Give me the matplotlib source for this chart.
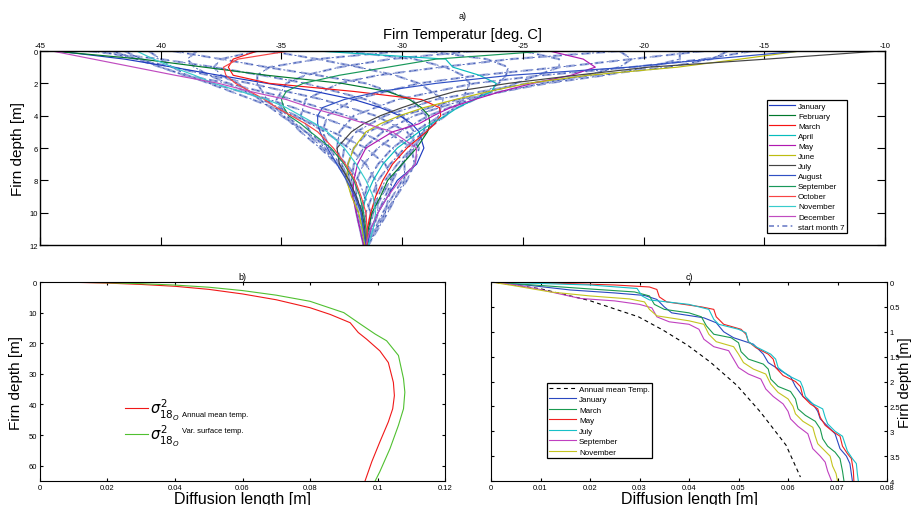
import matplotlib
matplotlib.use('Agg')
import matplotlib.pyplot as plt

plt.rcParams['font.family'] = ['Liberation Sans', 'DejaVu Sans']
plt.rcParams['axes.unicode_minus'] = False

# ---------------- panel a: firn temperature profiles ----------------
depth_a = [0, 0.5, 1, 1.5, 2, 2.5, 3, 3.5, 4, 4.5, 5, 6, 7, 8, 9, 10, 11, 12]
months = ['January', 'February', 'March', 'April', 'May', 'June', 'July',
          'August', 'September', 'October', 'November', 'December']
t_jan = [-44.3, -41.5, -39.5, -37.6, -35.6, -33.6, -32.0, -30.9, -30.1, -29.6, -29.3, -29.1, -29.4, -30.2, -30.6, -31.0, -31.3, -31.45]
t_feb = [-44.5, -40.8, -38.2, -35.6, -32.5, -30.6, -29.7, -29.2, -28.9, -28.85, -28.95, -29.4, -30.0, -30.6, -30.9, -31.25, -31.4, -31.5]
t_mar = [-36.0, -37.0, -37.2, -37.0, -35.5, -32.0, -29.2, -28.45, -28.4, -28.65, -29.0, -29.8, -30.4, -30.8, -31.1, -31.3, -31.45, -31.5]
t_apr = [-33.5, -28.2, -27.9, -26.8, -26.1, -26.3, -27.0, -27.7, -28.2, -28.8, -29.3, -30.2, -30.8, -31.2, -31.5, -31.65, -31.65, -31.55]
t_may = [-23.9, -22.5, -22.0, -23.0, -24.6, -25.9, -27.0, -28.0, -28.7, -29.3, -30.4, -31.5, -31.85, -32.0, -32.05, -31.9, -31.75, -31.6]
t_jun = [-13.5, -16.0, -18.6, -22.3, -24.8, -26.4, -27.8, -29.1, -30.1, -30.9, -31.5, -32.0, -32.25, -32.3, -32.1, -31.8, -31.65, -31.55]
t_jul = [-10.2, -14.9, -19.8, -22.8, -25.6, -27.8, -29.0, -30.0, -30.9, -31.6, -32.1, -32.7, -32.6, -32.2, -31.9, -31.65, -31.55, -31.5]
t_aug = [-13.5, -17.2, -20.6, -25.5, -28.6, -30.9, -32.4, -33.3, -33.5, -33.5, -33.4, -33.1, -32.7, -32.3, -31.95, -31.7, -31.6, -31.5]
t_sep = [-24.0, -28.6, -30.6, -32.6, -34.1, -34.8, -35.0, -34.9, -34.7, -34.2, -33.8, -32.95, -32.4, -32.0, -31.75, -31.6, -31.5, -31.45]
t_oct = [-34.7, -36.8, -37.4, -37.3, -36.9, -36.3, -35.7, -35.2, -34.6, -34.0, -33.5, -32.85, -32.35, -31.95, -31.7, -31.5, -31.45, -31.45]
t_nov = [-41.0, -40.3, -39.5, -38.6, -37.8, -36.7, -35.6, -34.8, -34.2, -33.6, -33.1, -32.4, -31.9, -31.5, -31.2, -31.1, -31.2, -31.4]
t_dec = [-44.5, -42.8, -41.1, -39.4, -37.6, -36.3, -34.8, -33.8, -32.6, -31.5, -30.4, -29.4, -29.45, -30.1, -30.6, -31.0, -31.3, -31.5]
temps_a = [t_jan, t_feb, t_mar, t_apr, t_may, t_jun, t_jul,
           t_aug, t_sep, t_oct, t_nov, t_dec]
colors_a = ['#1f3cc0', '#00782c', '#f41414', '#08bcbc', '#b018b0', '#bcbc10',
            '#444444', '#3050c4', '#18985a', '#f84444', '#38cccc', '#c04cc0']

# dashed profiles ("start month 7")
depth_dash = [0, 0.5, 1, 1.5, 2, 3, 4, 5, 6, 7, 8, 10, 12]
dashed_profiles = [
    [-43.0, -40.0, -37.8, -35.8, -34.0, -31.5, -30.0, -29.5, -29.6, -30.0, -30.4, -31.0, -31.45],
    [-42.5, -41.0, -39.5, -38.0, -36.3, -33.3, -31.1, -29.8, -29.3, -29.5, -30.0, -30.8, -31.45],
    [-42.0, -41.0, -40.0, -39.0, -37.2, -34.5, -32.3, -30.6, -29.6, -29.5, -29.8, -30.7, -31.45],
    [-41.5, -40.8, -40.0, -39.0, -37.9, -35.5, -33.5, -31.7, -30.4, -29.9, -29.9, -30.6, -31.4],
    [-40.5, -40.0, -39.5, -38.9, -38.0, -36.2, -34.5, -32.9, -31.5, -30.7, -30.4, -30.7, -31.4],
    [-38.5, -38.9, -38.6, -38.0, -37.2, -35.8, -34.4, -33.2, -32.2, -31.5, -31.1, -31.0, -31.4],
    [-36.0, -37.5, -37.8, -37.5, -36.8, -35.9, -35.0, -34.0, -33.0, -32.3, -31.8, -31.3, -31.4],
    [-30.0, -33.5, -35.5, -36.0, -36.0, -35.6, -34.9, -34.2, -33.4, -32.7, -32.2, -31.6, -31.5],
    [-27.0, -30.5, -32.6, -34.0, -34.8, -35.2, -34.8, -34.0, -33.3, -32.7, -32.2, -31.7, -31.5],
    [-21.0, -25.5, -28.4, -31.0, -32.6, -34.0, -34.2, -33.8, -33.2, -32.7, -32.2, -31.7, -31.5],
    [-17.5, -20.5, -23.5, -26.8, -29.3, -32.0, -33.1, -33.3, -33.0, -32.6, -32.2, -31.7, -31.5],
    [-15.5, -17.5, -20.5, -24.2, -27.0, -30.2, -32.0, -32.6, -32.7, -32.5, -32.2, -31.7, -31.5],
    [-16.5, -17.2, -19.0, -22.0, -24.8, -28.6, -30.7, -31.9, -32.4, -32.5, -32.3, -31.8, -31.5],
    [-18.5, -18.5, -19.8, -21.6, -24.0, -27.7, -30.0, -31.4, -32.0, -32.25, -32.2, -31.85, -31.55],
    [-21.0, -20.5, -21.0, -22.4, -24.2, -27.4, -29.5, -30.8, -31.6, -32.0, -32.1, -31.9, -31.6],
    [-25.0, -23.5, -23.5, -24.4, -25.3, -27.2, -28.9, -30.1, -31.0, -31.6, -31.9, -31.9, -31.6],
    [-29.0, -26.5, -25.6, -25.7, -26.0, -27.0, -28.4, -29.5, -30.4, -31.0, -31.4, -31.7, -31.6],
    [-32.5, -29.5, -28.2, -27.5, -27.2, -27.5, -28.2, -29.1, -29.9, -30.5, -31.0, -31.5, -31.6],
    [-35.5, -33.5, -31.8, -30.3, -29.3, -28.3, -28.5, -29.0, -29.6, -30.2, -30.7, -31.3, -31.55],
    [-39.5, -37.5, -35.6, -33.5, -31.5, -29.6, -29.0, -29.1, -29.5, -30.0, -30.5, -31.2, -31.5],
]

# ---------------- panel b: diffusion length, 0-65 m ----------------
b_mean_x = [0, 0.01, 0.02, 0.03, 0.04, 0.05, 0.06, 0.07, 0.08, 0.086, 0.0919, 0.0943, 0.0968,
            0.1007, 0.1032, 0.1047, 0.105, 0.1045, 0.1032, 0.1007, 0.0983, 0.0963]
b_mean_z = [0, 0.1, 0.35, 0.8, 1.4, 2.4, 3.9, 5.8, 8.4, 10.6, 13.3, 16.5, 18.7,
            22.5, 26.3, 32.8, 37.1, 41.4, 45.7, 52.2, 58.7, 65.0]
b_var_x = [0, 0.01, 0.02, 0.03, 0.04, 0.05, 0.06, 0.07, 0.08, 0.09, 0.095, 0.0993, 0.1027,
           0.1062, 0.1077, 0.1081, 0.1077, 0.1062, 0.1037, 0.1007, 0.0993]
b_var_z = [0, 0.08, 0.25, 0.55, 1.0, 1.7, 2.8, 4.3, 6.3, 10.0, 13.8, 17.0, 19.2,
           24.0, 31.6, 36.0, 41.4, 46.8, 54.4, 61.9, 65.0]

# ---------------- panel c: diffusion length, 0-4 m ----------------
c_mean_x = [0, 0.0099, 0.0198, 0.0298, 0.0348, 0.0397, 0.0443, 0.0497, 0.0544, 0.0596, 0.0625]
c_mean_z = [0, 0.134, 0.37, 0.70, 0.97, 1.27, 1.61, 2.08, 2.61, 3.28, 3.92]

c_jan_x = [0, 0.008, 0.016, 0.025, 0.031, 0.0335, 0.035, 0.0365, 0.043, 0.0455, 0.047, 0.049, 0.053, 0.055, 0.056,
           0.0585, 0.0605, 0.0615, 0.063, 0.065, 0.066, 0.0665, 0.068, 0.0695, 0.070, 0.0705, 0.0718, 0.0725, 0.073]
c_jan_z = [0, 0.07, 0.16, 0.22, 0.27, 0.35, 0.5, 0.62, 0.72, 0.82, 1.0, 1.12, 1.25, 1.45, 1.62,
           1.78, 1.9, 2.1, 2.3, 2.45, 2.6, 2.75, 2.9, 3.05, 3.2, 3.35, 3.5, 3.65, 4.0]
c_mar_x = [0, 0.01, 0.02, 0.029, 0.032, 0.033, 0.035, 0.040, 0.0425, 0.0435, 0.045, 0.0485, 0.050, 0.0505, 0.052,
           0.055, 0.056, 0.0565, 0.058, 0.0605, 0.0615, 0.062, 0.0635, 0.0655, 0.0665, 0.067, 0.068, 0.0695, 0.0705, 0.071, 0.0713]
c_mar_z = [0, 0.07, 0.14, 0.2, 0.28, 0.45, 0.55, 0.62, 0.7, 0.88, 1.05, 1.12, 1.22, 1.4, 1.55,
           1.65, 1.75, 1.95, 2.1, 2.2, 2.35, 2.55, 2.68, 2.8, 2.95, 3.15, 3.3, 3.42, 3.55, 3.8, 4.0]
c_may_x = [0, 0.012, 0.025, 0.032, 0.0335, 0.034, 0.0355, 0.0425, 0.045, 0.0455, 0.047, 0.0505, 0.0515, 0.052, 0.0535,
           0.056, 0.057, 0.0575, 0.059, 0.0615, 0.0625, 0.063, 0.0645, 0.066, 0.0665, 0.0675, 0.069, 0.0705, 0.071, 0.072, 0.0728, 0.0732, 0.0733]
c_may_z = [0, 0.02, 0.06, 0.1, 0.15, 0.3, 0.4, 0.5, 0.55, 0.7, 0.85, 0.95, 1.05, 1.2, 1.32,
           1.45, 1.55, 1.72, 1.88, 2.0, 2.1, 2.3, 2.45, 2.55, 2.72, 2.88, 3.0, 3.1, 3.3, 3.45, 3.55, 3.8, 4.0]
c_jul_x = [0, 0.010, 0.020, 0.0295, 0.0305, 0.032, 0.040, 0.044, 0.045, 0.046, 0.050, 0.0515, 0.052, 0.0535, 0.0565,
           0.0575, 0.058, 0.060, 0.0625, 0.063, 0.0635, 0.065, 0.067, 0.0675, 0.068, 0.0695, 0.071, 0.0715, 0.072, 0.073, 0.0738, 0.074, 0.0742]
c_jul_z = [0, 0.03, 0.06, 0.13, 0.28, 0.36, 0.45, 0.55, 0.75, 0.85, 0.95, 1.02, 1.2, 1.3, 1.45,
           1.55, 1.72, 1.88, 2.0, 2.12, 2.3, 2.45, 2.55, 2.72, 2.85, 3.0, 3.1, 3.25, 3.4, 3.55, 3.65, 3.85, 4.0]
c_sep_x = [0, 0.005, 0.010, 0.013, 0.018, 0.025, 0.030, 0.0325, 0.0335, 0.036, 0.040, 0.042, 0.043, 0.045, 0.048,
           0.049, 0.050, 0.052, 0.0545, 0.0555, 0.057, 0.059, 0.060, 0.0605, 0.062, 0.064, 0.0645, 0.065, 0.0665, 0.0675, 0.068, 0.0688]
c_sep_z = [0, 0.06, 0.15, 0.22, 0.33, 0.38, 0.45, 0.52, 0.7, 0.8, 0.85, 0.95, 1.15, 1.3, 1.38,
           1.55, 1.72, 1.85, 1.95, 2.15, 2.3, 2.45, 2.6, 2.75, 2.9, 3.05, 3.2, 3.35, 3.5, 3.62, 3.8, 4.0]
c_nov_x = [0, 0.005, 0.012, 0.02, 0.028, 0.031, 0.032, 0.0335, 0.040, 0.043, 0.044, 0.0455, 0.049, 0.050, 0.051,
           0.053, 0.0555, 0.0565, 0.058, 0.060, 0.061, 0.0615, 0.063, 0.065, 0.0655, 0.066, 0.0675, 0.0685, 0.069, 0.0697, 0.070]
c_nov_z = [0, 0.08, 0.2, 0.28, 0.34, 0.4, 0.55, 0.68, 0.78, 0.85, 1.05, 1.2, 1.3, 1.45, 1.62,
           1.75, 1.85, 2.05, 2.22, 2.35, 2.5, 2.65, 2.8, 2.92, 3.1, 3.25, 3.4, 3.5, 3.7, 3.85, 4.0]
c_series = [('January', c_jan_x, c_jan_z, '#2a48c0'),
            ('March', c_mar_x, c_mar_z, '#1a9a50'),
            ('May', c_may_x, c_may_z, '#f02020'),
            ('July', c_jul_x, c_jul_z, '#18c0c8'),
            ('September', c_sep_x, c_sep_z, '#c040c0'),
            ('November', c_nov_x, c_nov_z, '#c4c420')]

fig = plt.figure(figsize=(9.11, 5.06), dpi=100)

# ---- a) ----
ax = fig.add_axes([0.0439, 0.5138, 0.9276, 0.3834])
for prof in dashed_profiles:
    ax.plot(prof, depth_dash, color='#98a6da', lw=1.6, ls=(0, (4, 2.5)), zorder=1)
    ax.plot(prof, depth_dash, color='#3550b0', lw=0.6, ls=(2, (2.5, 4)), zorder=1)
handles = []
for name, t, c in zip(months, temps_a, colors_a):
    h, = ax.plot(t, depth_a, color=c, lw=0.85, label=name, zorder=2)
    handles.append(h)
hd, = ax.plot([], [], color='#6f80c8', lw=1.2, ls=(0, (3, 2, 1, 2)), label='start month 7')
handles.append(hd)
ax.set_xlim(-45, -10)
ax.set_ylim(12, 0)
ax.set_xticks(range(-45, -9, 5))
ax.set_yticks(range(0, 13, 2))
ax.tick_params(direction='in', length=5.5, width=0.8, labelsize=5.5,
               top=True, bottom=True, left=True, right=True,
               labeltop=True, labelbottom=False, pad=1.5)
ax.xaxis.set_label_position('top')
ax.set_xlabel('Firn Temperatur [deg. C]', fontsize=10.5, labelpad=3)
ax.set_ylabel('Firn depth [m]', fontsize=11, labelpad=3)
for s in ax.spines.values():
    s.set_linewidth(1.0)
leg = ax.legend(handles=handles, loc='lower right', bbox_to_anchor=(0.955, 0.062),
                fontsize=5.8, frameon=True, fancybox=False, edgecolor='black',
                framealpha=1, handlelength=3.2, labelspacing=0.3, borderpad=0.3,
                handletextpad=0.35, borderaxespad=0)
leg.get_frame().set_linewidth(0.9)
fig.text(0.508, 0.962, 'a)', fontsize=6.5, ha='center')

# ---- b) ----
axb = fig.add_axes([0.0439, 0.0474, 0.4446, 0.3933])
lr, = axb.plot(b_mean_x, b_mean_z, color='#f01818', lw=0.8)
lg, = axb.plot(b_var_x, b_var_z, color='#50c030', lw=0.8)
axb.set_xlim(0, 0.12)
axb.set_ylim(65, 0)
axb.set_xticks([0, 0.02, 0.04, 0.06, 0.08, 0.1, 0.12])
axb.set_xticklabels(['0', '0.02', '0.04', '0.06', '0.08', '0.1', '0.12'])
axb.set_yticks(range(0, 61, 10))
axb.tick_params(direction='in', length=2.5, width=0.8, labelsize=5.5,
                top=True, right=True, pad=2)
axb.set_xlabel('Diffusion length [m]', fontsize=11.5, labelpad=0.5)
axb.set_ylabel('Firn depth [m]', fontsize=11, labelpad=4)
axb.set_title('b)', fontsize=6.5, pad=2)
sig = r'$\sigma^2_{18_O}$'
legb = axb.legend([lr, lg], [sig, sig], loc='center left', bbox_to_anchor=(0.21, 0.295),
                  frameon=False, fontsize=10.5, handlelength=1.55, handletextpad=0.15,
                  labelspacing=0.05, borderpad=0, borderaxespad=0)
axb.text(0.35, 0.335, 'Annual mean temp.', transform=axb.transAxes, fontsize=5.5,
         va='center')
axb.text(0.35, 0.252, 'Var. surface temp.', transform=axb.transAxes, fontsize=5.5,
         va='center')

# ---- c) ----
axc = fig.add_axes([0.539, 0.0474, 0.4347, 0.3933])
hm, = axc.plot(c_mean_x, c_mean_z, color='black', lw=0.8, ls=(0, (3.5, 3)),
               label='Annual mean Temp.')
for name, xs, zs, c in c_series:
    axc.plot(xs, zs, color=c, lw=0.8, label=name)
axc.set_xlim(0, 0.08)
axc.set_ylim(4, 0)
axc.set_xticks([0, 0.01, 0.02, 0.03, 0.04, 0.05, 0.06, 0.07, 0.08])
axc.set_xticklabels(['0', '0.01', '0.02', '0.03', '0.04', '0.05', '0.06', '0.07', '0.08'])
axc.set_yticks([0, 0.5, 1, 1.5, 2, 2.5, 3, 3.5, 4])
axc.set_yticklabels(['0', '0.5', '1', '1.5', '2', '2.5', '3', '3.5', '4'])
axc.yaxis.tick_right()
axc.yaxis.set_label_position('right')
axc.tick_params(direction='in', length=2.5, width=0.8, labelsize=5.5,
                top=True, left=True, right=True, labelleft=False, labelright=True, pad=2)
axc.set_xlabel('Diffusion length [m]', fontsize=11.5, labelpad=0.5)
axc.set_ylabel('Firn depth [m]', fontsize=10.5, rotation=90, labelpad=-1.5)
axc.set_title('c)', fontsize=6.5, pad=2)
legc = axc.legend(loc='lower left', bbox_to_anchor=(0.141, 0.116), fontsize=5.8,
                  frameon=True, fancybox=False, edgecolor='black', framealpha=1,
                  handlelength=3.3, labelspacing=0.35, borderpad=0.3,
                  handletextpad=0.4, borderaxespad=0)
legc.get_frame().set_linewidth(0.9)

fig.savefig('out.png', dpi=100)
